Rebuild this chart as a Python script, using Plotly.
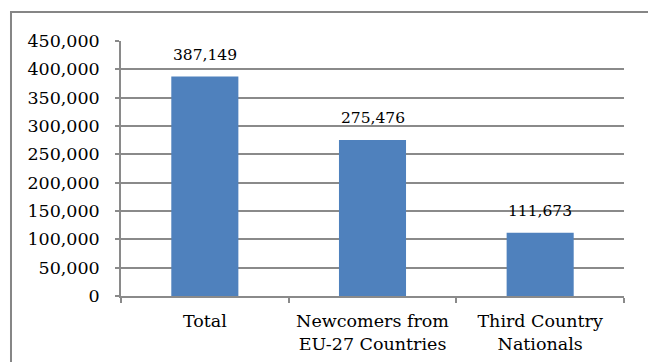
import plotly.graph_objects as go

categories = ["Total", "Newcomers from<br>EU-27 Countries", "Third Country<br>Nationals"]
values = [387149, 275476, 111673]
value_labels = ["387,149", "275,476", "111,673"]
y_ticks = [0, 50000, 100000, 150000, 200000, 250000, 300000, 350000, 400000, 450000]
y_tick_labels = ["0", "50,000", "100,000", "150,000", "200,000", "250,000",
                 "300,000", "350,000", "400,000", "450,000"]

FONT = "DejaVu Serif"
GRID = "#8a8a8a"

fig = go.Figure()
fig.add_trace(go.Bar(x=categories, y=values, marker=dict(color="#4F81BD", line=dict(width=0)),
                     hoverinfo="skip"))

for c, v, t in zip(categories, values, value_labels):
    fig.add_annotation(x=c, y=v, text=t, showarrow=False, yanchor="bottom", yshift=11,
                       font=dict(family=FONT, size=15.5, color="#000000"))

# outer frame
fig.add_shape(type="rect", xref="paper", yref="paper", x0=-0.2187, x1=1.2, y0=-0.4, y1=1.1137,
              line=dict(color="#868686", width=2), fillcolor="rgba(0,0,0,0)", layer="below")

fig.update_layout(
    width=648, height=362,
    margin=dict(l=121, r=24, t=41, b=66),
    paper_bgcolor="white", plot_bgcolor="white",
    bargap=0.6, showlegend=False,
    font=dict(family=FONT, color="#000000"),
    xaxis=dict(type="category", showline=True, linecolor=GRID, linewidth=1.5,
               ticks="outside", ticklen=5, tickcolor=GRID, tickwidth=1.5, tickson="boundaries",
               showgrid=False, ticklabelstandoff=8, automargin=False,
               tickfont=dict(family=FONT, size=17.5, color="#000000")),
    yaxis=dict(range=[0, 450000], tickvals=y_ticks, ticktext=y_tick_labels,
               showline=True, linecolor=GRID, linewidth=1.5, ticks="outside", ticklen=4,
               tickcolor=GRID, tickwidth=1.5, showgrid=True, gridcolor=GRID, gridwidth=1.5,
               zeroline=False, ticklabelstandoff=12, automargin=False,
               tickfont=dict(family=FONT, size=17.5, color="#000000")),
)

fig.write_html("out.html")
